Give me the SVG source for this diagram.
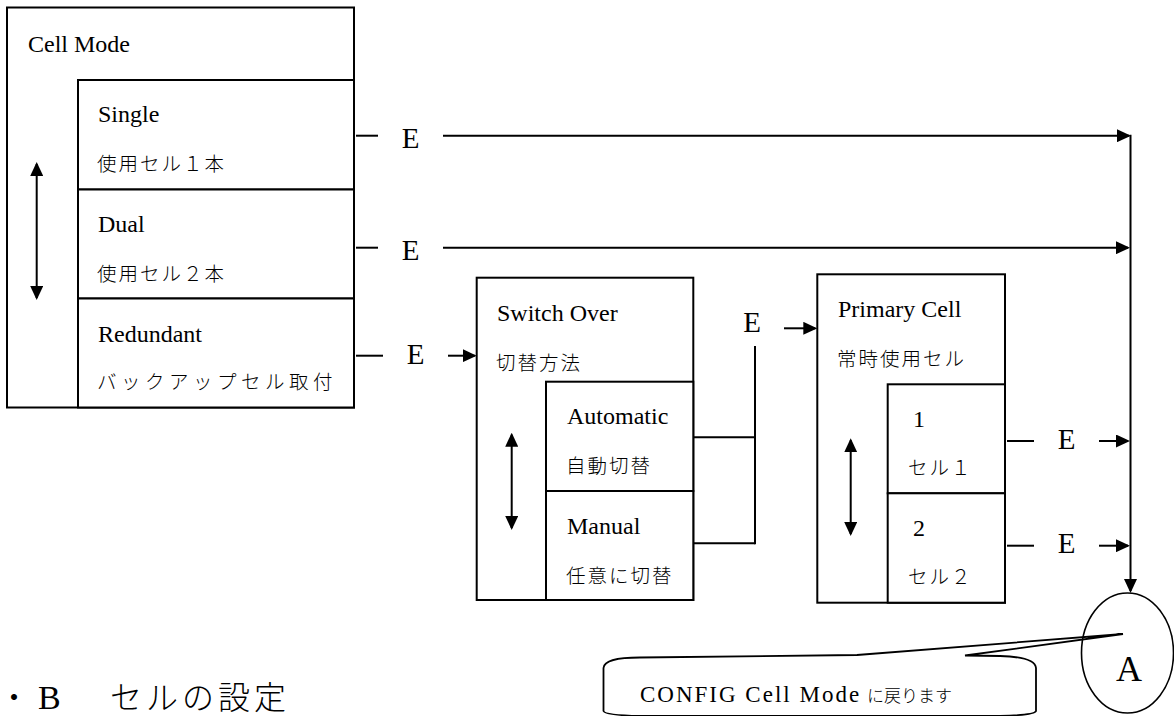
<svg xmlns="http://www.w3.org/2000/svg" width="1174" height="716" viewBox="0 0 1174 716">
<style>
  .box{fill:#fff;stroke:#000;stroke-width:2}
  .ln{fill:none;stroke:#000;stroke-width:2}
  .en{font-family:"Liberation Serif","Times New Roman",serif;font-size:24px;fill:#000}
  .jp{font-family:"Noto Sans CJK JP","Noto Sans CJK SC",sans-serif;font-size:19.5px;font-weight:300;letter-spacing:2px;fill:#000}
  .e{font-family:"Liberation Serif","Times New Roman",serif;font-size:29px;fill:#000}
</style>
<defs>
  <marker id="ah" viewBox="0 0 14 13" markerWidth="14" markerHeight="13" refX="12" refY="6.5" orient="auto-start-reverse" markerUnits="userSpaceOnUse">
    <path d="M0,0 L14,6.5 L0,13 Z" fill="#000"/>
  </marker>
</defs>
<rect width="1174" height="716" fill="#fff"/>

<g id="cellmode">
  <rect class="box" x="7" y="7.5" width="347" height="400"/>
  <text class="en" x="28" y="51.5">Cell Mode</text>
  <path class="ln" d="M36.7,164 V298" marker-start="url(#ah)" marker-end="url(#ah)"/>
</g>
<g id="single">
  <rect class="box" x="78" y="80" width="276" height="109.5"/>
  <text class="en" x="98" y="122">Single</text>
  <text class="jp" x="97" y="170.5">使用セル１本</text>
</g>
<g id="dual">
  <rect class="box" x="78" y="189.5" width="276" height="109"/>
  <text class="en" x="98" y="232">Dual</text>
  <text class="jp" x="97" y="280.5">使用セル２本</text>
</g>
<g id="redundant">
  <rect class="box" x="78" y="298.5" width="276" height="109"/>
  <text class="en" x="98" y="342">Redundant</text>
  <text class="jp" x="97" y="388.5" style="letter-spacing:4.5px">バックアップセル取付</text>
</g>

<g id="switchover">
  <rect class="box" x="476.7" y="277.7" width="216.6" height="322.3"/>
  <text class="en" x="497" y="320.5">Switch Over</text>
  <text class="jp" x="496" y="369.5">切替方法</text>
  <path class="ln" d="M511.7,434.7 V528" marker-start="url(#ah)" marker-end="url(#ah)"/>
</g>
<g id="automatic">
  <rect class="box" x="546" y="381.7" width="147.3" height="109.3"/>
  <text class="en" x="567" y="424">Automatic</text>
  <text class="jp" x="566" y="472.5">自動切替</text>
</g>
<g id="manual">
  <rect class="box" x="546" y="491" width="147.3" height="109"/>
  <text class="en" x="567" y="534">Manual</text>
  <text class="jp" x="566" y="582.5">任意に切替</text>
</g>

<g id="primarycell">
  <rect class="box" x="817.3" y="274.3" width="187.7" height="328.4"/>
  <text class="en" x="838" y="317.3">Primary Cell</text>
  <text class="jp" x="837" y="365.5">常時使用セル</text>
  <path class="ln" d="M850.7,440.3 V534" marker-start="url(#ah)" marker-end="url(#ah)"/>
</g>
<g id="cell1">
  <rect class="box" x="887.7" y="384.3" width="117.3" height="109"/>
  <text class="en" x="913" y="426.7">1</text>
  <text class="jp" x="908" y="474.5">セル１</text>
</g>
<g id="cell2">
  <rect class="box" x="887.7" y="493.3" width="117.3" height="109.4"/>
  <text class="en" x="913" y="536">2</text>
  <text class="jp" x="908" y="583.5">セル２</text>
</g>

<g id="connectors">
  <path class="ln" d="M356,135.7 H378"/>
  <path class="ln" d="M443,135.7 H1129" marker-end="url(#ah)"/>
  <path class="ln" d="M356,247.7 H378"/>
  <path class="ln" d="M443,247.7 H1128" marker-end="url(#ah)"/>
  <path class="ln" d="M356,355.7 H383"/>
  <path class="ln" d="M448,355.7 H474.7" marker-end="url(#ah)"/>
  <path class="ln" d="M693.3,437.3 H755"/>
  <path class="ln" d="M693.3,543.3 H755"/>
  <path class="ln" d="M755,346 V544.3"/>
  <path class="ln" d="M784,328.3 H815.3" marker-end="url(#ah)"/>
  <path class="ln" d="M1007,441 H1034"/>
  <path class="ln" d="M1099,441 H1128" marker-end="url(#ah)"/>
  <path class="ln" d="M1007,545.7 H1034"/>
  <path class="ln" d="M1099,545.7 H1128" marker-end="url(#ah)"/>
  <path class="ln" d="M1130.5,134.7 V591" marker-end="url(#ah)"/>
  <text class="e" x="401.7" y="148">E</text>
  <text class="e" x="401.7" y="260">E</text>
  <text class="e" x="406.7" y="364">E</text>
  <text class="e" x="743.3" y="332.3">E</text>
  <text class="e" x="1057.7" y="449.3">E</text>
  <text class="e" x="1057.7" y="553.3">E</text>
</g>

<g id="nodeA">
  <ellipse cx="1127.5" cy="653" rx="46" ry="60" fill="#fff" stroke="#000" stroke-width="1.6"/>
  <text x="1129" y="681" text-anchor="middle" style="font-family:'Liberation Serif','Times New Roman',serif;font-size:36px">A</text>
</g>

<g id="callout">
  <path fill="none" stroke="#000" stroke-width="1.8" d="M603.5,711 V668 Q604,657.5 640,657.5 L857,655 L1123,634 L965,655.5 L1000,656 Q1035,657 1036,668 V711 Q1035,715 1000,716 L640,716 Q604,715 603.5,711 Z"/>
  <text x="640" y="701.7" style="font-family:'Liberation Serif','Times New Roman',serif;font-size:23px;letter-spacing:2px">CONFIG Cell Mode</text>
  <text x="867" y="701.7" style="font-family:'Noto Sans CJK JP','Noto Sans CJK SC',sans-serif;font-size:17px;font-weight:300">に戻ります</text>
</g>

<g id="heading">
  <text y="709" style="font-family:'Noto Sans CJK JP','Noto Sans CJK SC',sans-serif;font-size:32px;font-weight:300"><tspan x="-2">・</tspan><tspan x="38" style="font-family:'Liberation Serif','Times New Roman',serif;font-size:34px">B</tspan><tspan x="110" style="letter-spacing:4px">セルの設定</tspan></text>
</g>
</svg>
